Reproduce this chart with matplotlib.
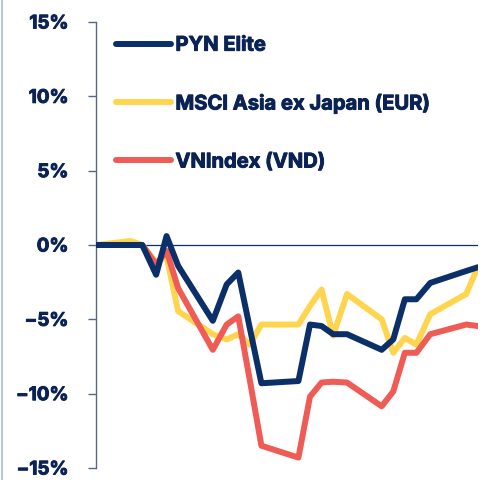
import matplotlib
matplotlib.use('Agg')
import matplotlib.pyplot as plt
import matplotlib.patheffects as pe
from matplotlib.lines import Line2D

# -----------------
# Data (cumulative return, %)
# -----------------

days = [0, 3, 4, 5.2, 6.1, 7.1, 10.1, 11.3, 12.3, 13.3, 14.3, 17.5,
        18.5, 19.5, 20.5, 21.7, 24.7, 25.7, 26.7, 27.7, 28.9, 32.0, 33.0]

pyn_elite = [0, 0, 0, -2.0, 0.6, -1.4, -5.1, -2.65, -1.85, -5.6, -9.3, -9.15,
             -5.35, -5.45, -6.0, -6.0, -7.05, -6.35, -3.65, -3.65, -2.55, -1.75, -1.5]

msci_asia = [0, 0.27, 0, -1.2, -0.75, -4.45, -6.0, -6.35, -6.0, -6.7, -5.35, -5.35,
             -4.1, -3.0, -6.1, -3.3, -5.0, -7.25, -6.25, -6.7, -4.65, -3.3, -1.5]

vn_index = [0, 0, 0, -1.3, -0.4, -2.9, -7.05, -5.35, -4.8, -9.1, -13.5, -14.3,
            -10.2, -9.25, -9.2, -9.25, -10.85, -9.85, -7.25, -7.25, -6.0, -5.35, -5.45]

y_ticks = [-15, -10, -5, 0, 5, 10, 15]
y_tick_labels = ['−15%', '−10%', '−5%', '0%', '5%', '10%', '15%']

series_labels = ['PYN Elite', 'MSCI Asia ex Japan (EUR)', 'VNIndex (VND)']

# -----------------
# Styling
# -----------------

navy = '#0a2f69'
yellow = '#ffd54f'
red = '#ef5b55'
text_color = '#0b2255'
bolder = [pe.withStroke(linewidth=0.7, foreground=text_color)]

plt.rcParams['font.family'] = ['Inter', 'DejaVu Sans']

fig = plt.figure(figsize=(4.93, 4.81), dpi=100)
ax = fig.add_axes([96 / 493, 1 - 469 / 481, (477.7 - 96) / 493, (469 - 23) / 481])

line_kw = dict(linewidth=4.3, solid_capstyle='round', solid_joinstyle='round')
ax.axhline(0, color=navy, linewidth=0.9, zorder=1)
ax.plot(days, pyn_elite, color=navy, label=series_labels[0], zorder=4, **line_kw)
ax.plot(days, msci_asia, color=yellow, label=series_labels[1], zorder=3, **line_kw)
ax.plot(days, vn_index, color=red, label=series_labels[2], zorder=3.5, **line_kw)

ax.set_xlim(0, 33)
ax.set_ylim(-15, 15)
ax.set_xticks([])
ax.set_yticks(y_ticks)
ax.set_yticklabels(y_tick_labels, fontsize=13.5, fontweight='bold', color=text_color)
for t in ax.get_yticklabels():
    t.set_path_effects(bolder)
ax.tick_params(axis='y', length=5.8, width=1, color='#5a6680', pad=14)

for side in ['top', 'right', 'bottom']:
    ax.spines[side].set_visible(False)
ax.spines['left'].set_color('#5a6680')
ax.spines['left'].set_linewidth(1)

# Legend
handles = [Line2D([0], [0], color=c, linewidth=4.3, solid_capstyle='round')
           for c in [navy, yellow, red]]
leg = ax.legend(handles, series_labels, loc='upper left', bbox_to_anchor=(0.004, 1.008),
                frameon=False, handlelength=2.75, handletextpad=0.22, labelspacing=1.98,
                prop={'weight': 'bold', 'size': 14.5})
for t in leg.get_texts():
    t.set_color(text_color)
    t.set_path_effects(bolder)

# Light border at the left edge
fig.add_artist(Line2D([2 / 493, 2 / 493], [0, 1], transform=fig.transFigure,
                      color='#b7c8da', linewidth=1.5))

fig.savefig('out.png', dpi=100)
